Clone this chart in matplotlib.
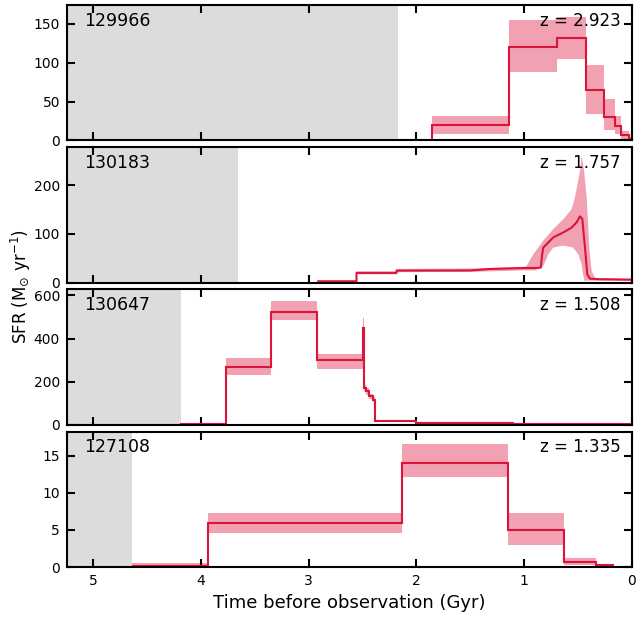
import numpy as np
import matplotlib.pyplot as plt

# galaxy ids and redshifts
ids = ['129966', '130183', '130647', '127108']
redshifts = ['2.923', '1.757', '1.508', '1.335']
gray_end = [2.17, 3.655, 4.18, 4.638]
ylims = [174, 278, 628, 18.24]
yticks = [[0, 50, 100, 150], [0, 100, 200], [0, 200, 400, 600], [0, 5, 10, 15]]

# 129966: binned SFH (edges in Gyr before observation)
edges1 = [0, 0.025, 0.099, 0.155, 0.26, 0.427, 0.693, 1.138, 1.855, 2.17]
sfr1 = [2, 6.4, 18, 29.5, 65, 131.6, 119.6, 19.6, 0]
lo1 = [0, 1, 8, 13, 34, 104, 88, 8, 0]
hi1 = [4, 12, 31, 53, 97, 158, 155, 31, 0]

# 130183: continuous SFH
t2 = [2.91, 2.555, 2.555, 2.183, 2.183, 1.5, 1.32, 1.01, 0.88, 0.845, 0.835,
      0.823, 0.791, 0.73, 0.637, 0.559, 0.513, 0.482, 0.461, 0.436, 0.415,
      0.39, 0.3, 0.0]
sfr2 = [2.7, 2.7, 20, 20, 24.7, 25, 28, 30, 30, 31, 55,
        72, 79, 93, 103, 113, 124, 136, 131, 72, 17,
        8, 7, 6]
t2_hi = [2.91, 2.555, 2.555, 2.183, 2.183, 1.5, 1.0, 0.977, 0.916, 0.823,
         0.73, 0.637, 0.559, 0.529, 0.498, 0.476, 0.467, 0.445, 0.42, 0.396,
         0.374, 0.343, 0.3, 0.0]
hi2 = [4.5, 4.5, 23, 23, 28, 29, 32, 34, 58, 86,
       110, 130, 151, 175, 210, 237, 261, 231, 175, 72,
       24, 10, 9, 8]
t2_lo = [2.91, 2.555, 2.555, 2.183, 2.183, 1.5, 1.0, 0.9, 0.823, 0.776,
         0.73, 0.637, 0.545, 0.498, 0.467, 0.452, 0.44, 0.0]
lo2 = [1.5, 1.5, 17, 17, 21.5, 22, 25, 25, 34, 58,
       72, 76, 72, 58, 38, 14, 4, 4]

# 130647
edges3 = [0, 1.1, 2.0, 2.384, 2.40, 2.437, 2.468, 2.486, 2.498, 2.925, 3.352,
          3.766, 4.18, 5.24]
sfr3 = [4, 10.7, 18, 116, 132, 155, 170, 450, 299, 524, 267, 5, 1]
lo3 = [2, 6, 14, 105, 120, 140, 155, 420, 260, 488, 229, 2, 0]
hi3 = [6, 14, 22, 128, 145, 170, 185, 496, 329, 574, 310, 8, 3]

# 127108
edges4 = [0, 0.173, 0.334, 0.628, 1.153, 2.137, 3.936, 4.635]
sfr4 = [0.05, 0.27, 0.68, 5.0, 13.96, 5.9, 0.18]
lo4 = [0, 0.1, 0.27, 2.97, 12.07, 4.55, 0.0]
hi4 = [0.15, 0.45, 1.26, 7.34, 16.6, 7.25, 0.55]

red = '#dc143c'
xmax = 5.24

fig, axes = plt.subplots(4, 1, sharex=True, figsize=(6.36, 6.18), dpi=100)
plt.subplots_adjust(left=0.1053, right=0.9937, top=0.9919, bottom=0.0825, hspace=0.05)

for i, ax in enumerate(axes):
    ax.axvspan(xmax, gray_end[i], color='gainsboro', lw=0, zorder=0)
    ax.set_ylim(0, ylims[i])
    ax.set_yticks(yticks[i])
    ax.text(0.03, 0.95, ids[i], transform=ax.transAxes, ha='left', va='top', fontsize=12.5)
    ax.text(0.98, 0.95, 'z = ' + redshifts[i], transform=ax.transAxes, ha='right', va='top', fontsize=12)
    ax.tick_params(direction='in', top=True, right=True, length=6, width=1.5,
                   labelsize=10, pad=5)
    for s in ax.spines.values():
        s.set_linewidth(1.5)

binned = [(0, edges1, sfr1, lo1, hi1), (2, edges3, sfr3, lo3, hi3), (3, edges4, sfr4, lo4, hi4)]
for i, e, v, lo, hi in binned:
    ax = axes[i]
    ax.stairs(hi, e, baseline=lo, fill=True, color=red, alpha=0.4, lw=0, zorder=1)
    ax.stairs(v, e, baseline=None, color=red, lw=1.5, zorder=2)

ax = axes[1]
ax.fill(np.concatenate([t2_hi, t2_lo[::-1]]), np.concatenate([hi2, lo2[::-1]]),
        color=red, alpha=0.4, lw=0, zorder=1)
ax.plot(t2, sfr2, color=red, lw=1.5, zorder=2)

axes[-1].set_xlim(xmax, 0)
axes[-1].set_xticks([5, 4, 3, 2, 1, 0])
axes[-1].set_xlabel('Time before observation (Gyr)', fontsize=13, labelpad=4)
fig.text(0.033, (0.9919 + 0.0825) / 2, r'SFR (M$_{\odot}$ yr$^{-1}$)', rotation=90,
         va='center', ha='center', fontsize=12)

plt.savefig('out.png')
